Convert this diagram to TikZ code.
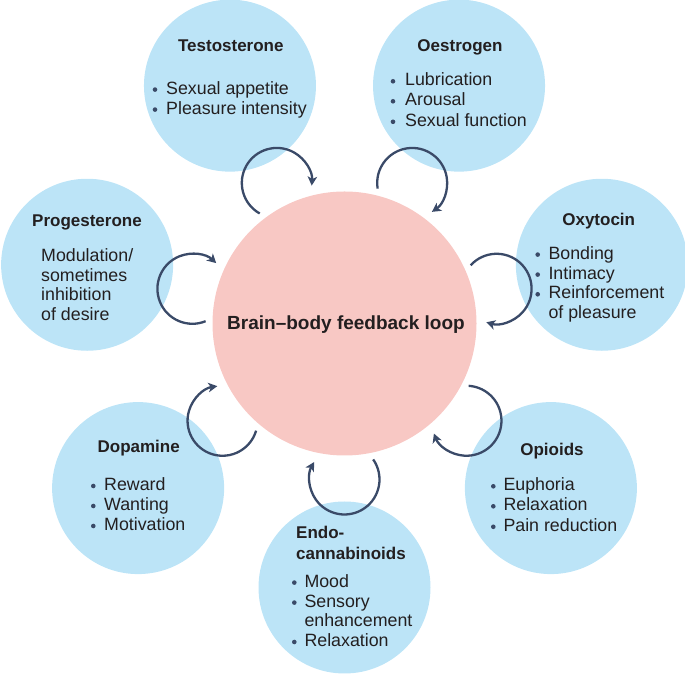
\documentclass[tikz,border=0pt]{standalone}
\usepackage{fontspec}
\setmainfont{Liberation Sans}
\usetikzlibrary{arrows.meta,calc}
\definecolor{bluec}{HTML}{BCE4F7}
\definecolor{pinkc}{HTML}{F8C8C4}
\definecolor{arrc}{HTML}{3A4A68}
\definecolor{txtc}{HTML}{231F20}
\begin{document}
\begin{tikzpicture}[x=1pt,y=1pt,
  bcirc/.style={circle,fill=bluec,minimum size=172pt,inner sep=0},
  pcirc/.style={circle,fill=pinkc,minimum size=264pt,inner sep=0},
  ttl/.style={anchor=base,inner sep=0,text=txtc,font=\fontsize{17}{20}\selectfont\bfseries},
  ttlw/.style={anchor=base west,inner sep=0,text=txtc,font=\fontsize{17}{20}\selectfont\bfseries},
  bdy/.style={anchor=base west,inner sep=0,text=txtc,font=\fontsize{17.8}{20}\selectfont},
  loopar/.style={draw=arrc,line width=2.3pt,-{Stealth[length=9pt,width=9.5pt,inset=2.5pt]}},
  dot/.style={circle,fill=arrc,inner sep=0,minimum size=4.6pt}]
\useasboundingbox (0,0) rectangle (685,674);
\coordinate (C) at (344.5,350.5);
\node[pcirc] (brain) at (C) {};
\path (C) ++(-90:264) node[bcirc] (endo) {};
\path (C) ++(-38.571:264) node[bcirc] (opi) {};
\path (C) ++(12.857:264) node[bcirc] (oxy) {};
\path (C) ++(64.286:264) node[bcirc] (oes) {};
\path (C) ++(115.714:264) node[bcirc] (tes) {};
\path (C) ++(167.143:264) node[bcirc] (pro) {};
\path (C) ++(218.571:264) node[bcirc] (dop) {};

\node[anchor=base,inner sep=0,text=txtc,font=\fontsize{19}{22}\selectfont\bfseries] (braintxt) at (346,344.7) {Brain–body feedback loop};

% Testosterone
\node[ttl] (tesT) at (230.8,622) {Testosterone};
\node[dot] (tesd1) at (155,584.4) {};
\node[bdy] (tes1) at (166,579.7) {Sexual appetite};
\node[dot] (tesd2) at (155,564.4) {};
\node[bdy] (tes2) at (166,559.7) {Pleasure intensity};

% Oestrogen
\node[ttl] (oesT) at (460,622) {Oestrogen};
\node[dot] (oesd1) at (393,592.7) {};
\node[bdy] (oes1) at (405,588) {Lubrication};
\node[dot] (oesd2) at (393,572.7) {};
\node[bdy] (oes2) at (405,568) {Arousal};
\node[dot] (oesd3) at (393,552.2) {};
\node[bdy] (oes3) at (405,547.5) {Sexual function};

% Progesterone
\node[ttl] (proT) at (87,447.3) {Progesterone};
\node[bdy] (pro1) at (41,412.5) {Modulation/};
\node[bdy] (pro2) at (41,392.8) {sometimes};
\node[bdy] (pro3) at (41,373.1) {inhibition};
\node[bdy] (pro4) at (41,353.4) {of desire};

% Oxytocin
\node[ttl] (oxyT) at (598.7,448) {Oxytocin};
\node[dot] (oxyd1) at (537.7,419.4) {};
\node[bdy] (oxy1) at (548.3,414.7) {Bonding};
\node[dot] (oxyd2) at (537.7,399.4) {};
\node[bdy] (oxy2) at (548.3,394.7) {Intimacy};
\node[dot] (oxyd3) at (537.7,379.7) {};
\node[bdy] (oxy3) at (548.3,375) {Reinforcement};
\node[bdy] (oxy4) at (548.3,355) {of pleasure};

% Dopamine
\node[ttl] (dopT) at (138.7,221.3) {Dopamine};
\node[dot] (dopd1) at (93.3,188) {};
\node[bdy] (dop1) at (104,183.3) {Reward};
\node[dot] (dopd2) at (93.3,168) {};
\node[bdy] (dop2) at (104,163.3) {Wanting};
\node[dot] (dopd3) at (93.3,148) {};
\node[bdy] (dop3) at (104,143.3) {Motivation};

% Opioids
\node[ttl] (opiT) at (552,218) {Opioids};
\node[dot] (opid1) at (493.3,187.7) {};
\node[bdy] (opi1) at (503.3,183) {Euphoria};
\node[dot] (opid2) at (493.3,167.7) {};
\node[bdy] (opi2) at (503.3,163) {Relaxation};
\node[dot] (opid3) at (493.3,147.2) {};
\node[bdy] (opi3) at (503.3,142.5) {Pain reduction};

% Endocannabinoids
\node[ttlw] (endoT1) at (296,135) {Endo-};
\node[ttlw] (endoT2) at (296,114.7) {cannabinoids};
\node[dot] (endod1) at (294.3,91.4) {};
\node[bdy] (endo1) at (304.3,86.7) {Mood};
\node[dot] (endod2) at (294.3,71.4) {};
\node[bdy] (endo2) at (304.3,66.7) {Sensory};
\node[bdy] (endo3) at (304.3,47.3) {enhancement};
\node[dot] (endod4) at (294.3,32) {};
\node[bdy] (endo4) at (304.3,27.3) {Relaxation};

% feedback loops
\foreach \t [count=\i] in {-90,-38.571,12.857,64.286,115.714,167.143,218.571} {
  \pgfmathsetmacro{\sa}{\t+125}
  \pgfmathsetmacro{\ea}{\t-120}
  \coordinate (lp\i) at ($(C)+(\t:156)$);
  \draw[loopar] ($(lp\i)+(\sa:35)$) arc[start angle=\sa,end angle=\ea,radius=35];
}
\end{tikzpicture}
\end{document}
